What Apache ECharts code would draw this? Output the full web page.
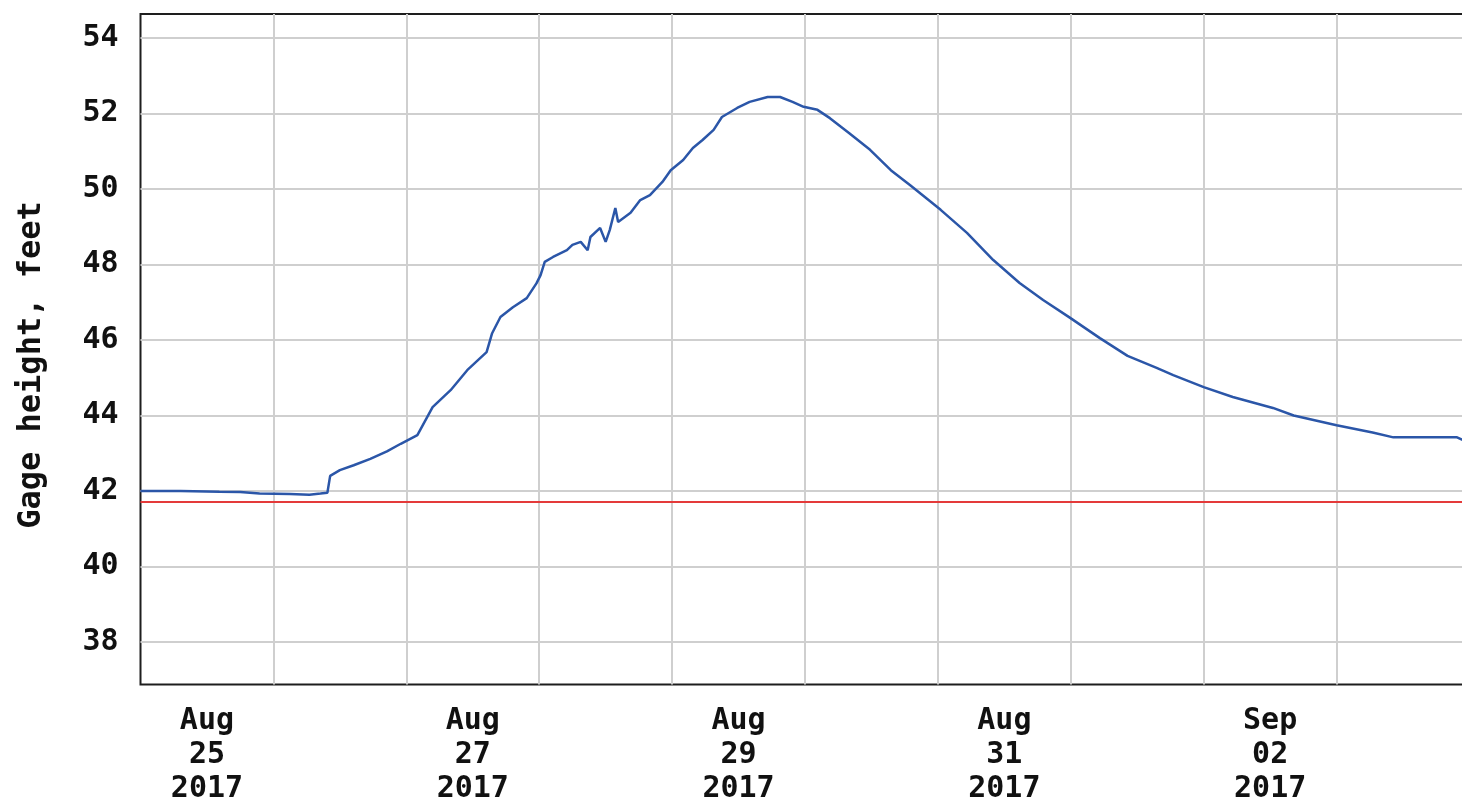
<!DOCTYPE html>
<html>
<head>
<meta charset="utf-8">
<title>Gage height, feet</title>
<script src="https://cdn.jsdelivr.net/npm/echarts@6/dist/echarts.min.js"></script>
<style>
  html, body { margin: 0; padding: 0; background: #ffffff; }
  #chart { width: 1462px; height: 805px; }
</style>
</head>
<body>
<div id="chart"></div>
<script>
// Hours elapsed since Aug 25 2017 00:00
const hours = [
  0, 7.25, 14.25, 18, 21.5, 27, 30.5, 32.5, 33.75, 34.25, 36, 38.5, 41.5, 44.5,
  47, 50, 52.75, 56, 59, 62.5, 63.5, 65, 67.25, 69.75, 71.5, 72.25, 73, 74.5,
  77, 78, 79.5, 80.75, 81.25, 83, 84, 84.75, 85.75, 86.25, 88.5, 90.25, 92,
  94.25, 95.75, 98, 99.75, 101.5, 103.5, 105, 107.75, 110, 113.25, 115.5,
  117.75, 119.75, 122.25, 124.5, 128, 131.75, 135.5, 139, 144.5, 149.25, 154,
  158.75, 163, 167.75, 173.25, 178.25, 183.5, 186.5, 192, 197.25, 204.5, 208.25,
  216, 222.5, 226.25, 237.75, 238.75
];

// Gage height, feet
const gageHeight = [
  42.00, 42.00, 41.98, 41.97, 41.93, 41.92, 41.90, 41.93, 41.95, 42.40, 42.55,
  42.68, 42.85, 43.05, 43.25, 43.48, 44.22, 44.67, 45.20, 45.68, 46.18, 46.61,
  46.87, 47.11, 47.50, 47.72, 48.07, 48.20, 48.38, 48.52, 48.60, 48.38, 48.73,
  48.97, 48.60, 48.92, 49.50, 49.13, 49.37, 49.71, 49.84, 50.19, 50.50, 50.77,
  51.09, 51.30, 51.57, 51.91, 52.15, 52.31, 52.44, 52.44, 52.31, 52.18, 52.10,
  51.88, 51.48, 51.04, 50.50, 50.10, 49.45, 48.84, 48.12, 47.51, 47.06, 46.60,
  46.05, 45.58, 45.26, 45.07, 44.75, 44.49, 44.20, 44.00, 43.74, 43.55, 43.42,
  43.42, 43.35
];

// Reference stage drawn across the plot
const referenceStage = 41.72;

// Vertical scale: visible range and labelled ticks
const yMin = 36.87;
const yMax = 54.64;
const yTicks = [38, 40, 42, 44, 46, 48, 50, 52, 54];

// Horizontal scale (hours), one gridline per day
const xMaxHours = 240;
const dayGridHours = 24;

// Date labels, centred on noon of each labelled day
const labelHours = [12, 60, 108, 156, 204];
const dateLabels = ['Aug\n25\n2017', 'Aug\n27\n2017', 'Aug\n29\n2017', 'Aug\n31\n2017', 'Sep\n02\n2017'];

const labelFont = '"DejaVu Sans Mono", "Liberation Mono", monospace';
const gridColor = '#cfcfcf';
const inkColor = '#111111';

const seriesData = hours.map((h, i) => [h, gageHeight[i]]);

const chart = echarts.init(document.getElementById('chart'), null, { renderer: 'canvas' });

chart.setOption({
  animation: false,
  backgroundColor: '#ffffff',
  grid: {
    left: 140.5,
    top: 14,
    width: 1329,
    height: 670.5,
    show: true,
    borderColor: '#1e1e1e',
    borderWidth: 2,
    backgroundColor: 'transparent',
    containLabel: false,
    outerBoundsMode: 'none'
  },
  xAxis: [
    {
      type: 'value',
      min: 0,
      max: xMaxHours,
      interval: dayGridHours,
      axisLine: { show: false },
      axisTick: { show: false },
      axisLabel: { show: false },
      splitLine: {
        show: true,
        showMinLine: false,
        showMaxLine: false,
        lineStyle: { color: gridColor, width: 2 }
      }
    },
    {
      type: 'value',
      min: 0,
      max: xMaxHours,
      interval: 12,
      position: 'bottom',
      axisLine: { show: false },
      axisTick: { show: false },
      splitLine: { show: false },
      axisLabel: {
        show: true,
        margin: 20,
        color: inkColor,
        fontFamily: labelFont,
        fontWeight: 'bold',
        fontSize: 30,
        lineHeight: 34,
        verticalAlign: 'top',
        formatter: function (v) {
          const idx = labelHours.indexOf(v);
          return idx >= 0 ? dateLabels[idx] : '';
        }
      }
    }
  ],
  yAxis: {
    type: 'value',
    min: yMin,
    max: yMax,
    axisLine: { show: false },
    axisTick: { show: false },
    axisLabel: { show: false },
    splitLine: { show: false }
  },
  graphic: [
    {
      type: 'text',
      x: 32,
      y: 365,
      rotation: Math.PI / 2,
      style: {
        text: 'Gage height, feet',
        fill: inkColor,
        font: 'bold 32px ' + labelFont,
        align: 'center',
        verticalAlign: 'middle'
      }
    }
  ],
  series: [
    {
      // horizontal gridlines with their value labels at the left edge
      type: 'line',
      xAxisIndex: 0,
      data: [],
      silent: true,
      z: 1,
      markLine: {
        silent: true,
        animation: false,
        symbol: 'none',
        z: 1,
        lineStyle: { color: gridColor, width: 2, type: 'solid' },
        label: {
          show: true,
          position: 'start',
          distance: 22,
          color: inkColor,
          fontFamily: labelFont,
          fontWeight: 'bold',
          fontSize: 30,
          formatter: function (p) { return String(p.value); }
        },
        emphasis: { disabled: true },
        data: yTicks.map(v => ({ yAxis: v }))
      }
    },
    {
      type: 'line',
      xAxisIndex: 0,
      data: seriesData,
      showSymbol: false,
      symbol: 'none',
      lineStyle: { color: '#2b56a8', width: 2.5 },
      itemStyle: { color: '#2b56a8' },
      z: 3,
      markLine: {
        silent: true,
        animation: false,
        symbol: 'none',
        label: { show: false },
        lineStyle: { color: '#e43a3a', width: 2, type: 'solid' },
        emphasis: { disabled: true },
        data: [{ yAxis: referenceStage }],
        z: 2
      }
    }
  ]
});
</script>
</body>
</html>
